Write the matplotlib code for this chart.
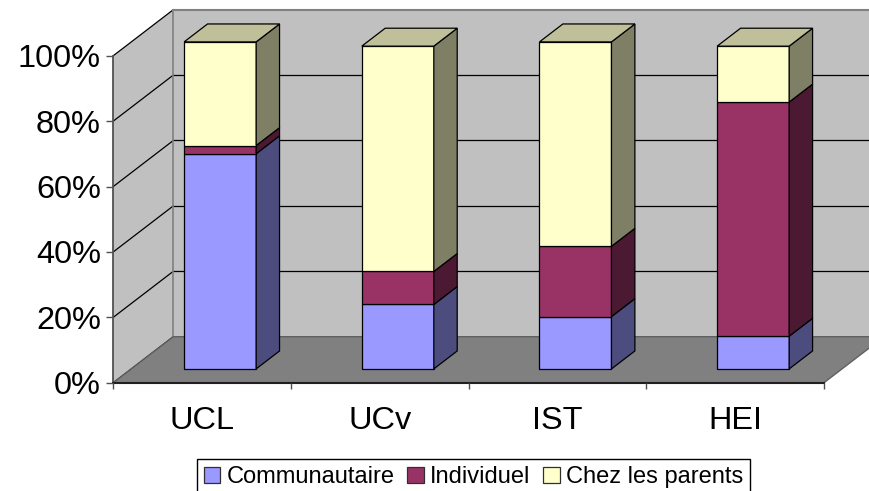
import matplotlib
matplotlib.use("Agg")
import matplotlib.pyplot as plt
from matplotlib.patches import Polygon, Patch
import numpy as np

# ---- data ----
categories = ["UCL", "UCv", "IST", "HEI"]
series_names = ["Communautaire", "Individuel", "Chez les parents"]
communautaire = [65.8, 19.7, 16.0, 10.0]
individuel = [2.5, 10.1, 21.5, 71.6]
chez_parents = [31.7, 68.9, 62.5, 17.1]
y_ticks = [0, 20, 40, 60, 80, 100]
y_tick_labels = ["0%", "20%", "40%", "60%", "80%", "100%"]

front_colors = ["#9999FF", "#993366", "#FFFFCC"]
side_colors = ["#4C4C7F", "#4C1933", "#7F7F66"]
top_colors = ["#7373BF", "#732650", "#BFBF99"]

plt.rcParams['font.family'] = ['Liberation Sans', 'DejaVu Sans']

W, H = 870, 491
fig = plt.figure(figsize=(W / 100, H / 100), dpi=100)
fig.patch.set_facecolor("white")

# axes mapped onto the front plane of the 3D box
x0, x1 = 113.3, 824.0
y_bot, y_top = 382.7, 55.7
ax = fig.add_axes([x0 / W, 1 - y_bot / H, (x1 - x0) / W, (y_bot - y_top) / H])
ax.set_xlim(0, len(categories))
ax.set_ylim(0, 100)
ax.patch.set_visible(False)

px_per_cat = (x1 - x0) / len(categories)
px_per_pct = (y_bot - y_top) / 100.0
DX = 60.0 / px_per_cat      # full depth in x data units
DY = 46.0 / px_per_pct      # full depth in y data units
ncat = len(categories)

wall = "#C0C0C0"
# left wall
ax.add_patch(Polygon([(0, 0), (DX, DY), (DX, 100 + DY), (0, 100)], closed=True,
                     facecolor=wall, edgecolor="none", zorder=0, clip_on=False))
# back wall
ax.add_patch(Polygon([(DX, DY), (ncat + DX * 2, DY), (ncat + DX * 2, 100 + DY), (DX, 100 + DY)],
                     closed=True, facecolor=wall, edgecolor="none", zorder=0, clip_on=False))
# gridlines
for g in y_ticks:
    ax.plot([0, DX], [g, g + DY], color="black", lw=0.9, zorder=0.5, clip_on=False)
    if 0 < g < 100:
        ax.plot([DX, ncat + DX * 2], [g + DY, g + DY], color="black", lw=0.9, zorder=0.5, clip_on=False)
# back wall top edge and left edge
ax.plot([DX, ncat + DX * 2], [100 + DY, 100 + DY], color="#808080", lw=1.5, zorder=0.6, clip_on=False)
ax.plot([DX, DX], [DY, 100 + DY], color="#808080", lw=1.2, zorder=0.6, clip_on=False)
# floor
ax.add_patch(Polygon([(0, 0), (ncat, 0), (ncat + DX, DY), (DX, DY)], closed=True,
                     facecolor="#808080", edgecolor="#606060", lw=1.0, zorder=0.7, clip_on=False))

# bars
z_front, z_back = 0.30, 0.69
bw = 72.0 / px_per_cat
ox, oy = z_front * DX, z_front * DY
ddx, ddy = (z_back - z_front) * DX, (z_back - z_front) * DY
xs = np.arange(ncat) + 0.5 + ox
series = [communautaire, individuel, chez_parents]
bottoms = np.zeros(ncat)
for si, vals in enumerate(series):
    vals = np.array(vals, dtype=float)
    ax.bar(xs, vals, bottom=bottoms + oy, width=bw, color=front_colors[si],
           edgecolor="black", linewidth=0.9, zorder=3, clip_on=False)
    for i in range(ncat):
        xr = xs[i] + bw / 2
        b = bottoms[i] + oy
        t = b + vals[i]
        ax.add_patch(Polygon([(xr, b), (xr + ddx, b + ddy), (xr + ddx, t + ddy), (xr, t)],
                             closed=True, facecolor=side_colors[si], edgecolor="black",
                             lw=0.9, zorder=3, clip_on=False))
        if si == len(series) - 1:
            xl = xs[i] - bw / 2
            ax.add_patch(Polygon([(xl, t), (xr, t), (xr + ddx, t + ddy), (xl + ddx, t + ddy)],
                                 closed=True, facecolor=top_colors[si], edgecolor="black",
                                 lw=0.9, zorder=3, clip_on=False))
    bottoms = bottoms + vals

# axes styling
for s in ["top", "right"]:
    ax.spines[s].set_visible(False)
ax.spines["left"].set_color("#505050")
ax.spines["left"].set_linewidth(1.3)
ax.spines["bottom"].set_color("#202020")
ax.spines["bottom"].set_linewidth(1.5)
ax.spines["left"].set_zorder(1)
ax.spines["bottom"].set_zorder(1)

ax.set_yticks(y_ticks)
ax.set_yticklabels(y_tick_labels, fontsize=23.4)
ax.tick_params(axis="y", direction="out", length=5, width=1.0, color="#505050", pad=4)

ax.set_xticks(np.arange(ncat + 1))
ax.set_xticklabels([])
ax.tick_params(axis="x", which="major", direction="out", length=4, width=1.0, color="#505050")
ax.set_xticks(np.arange(ncat) + 0.5, minor=True)
ax.set_xticklabels(categories, minor=True, fontsize=23.4)
ax.tick_params(axis="x", which="minor", length=0, pad=17)

handles = [Patch(facecolor=front_colors[i], edgecolor="#303030", lw=0.9) for i in range(3)]
leg = fig.legend(handles, series_names, loc="upper left",
                 bbox_to_anchor=(196.7 / W, 1 - 459 / H), ncol=3, fontsize=17,
                 frameon=True, fancybox=False, shadow=False, framealpha=1,
                 edgecolor="black", borderpad=0.3, handlelength=0.7, handleheight=0.7,
                 handletextpad=0.26, columnspacing=0.55, borderaxespad=0)
leg.get_frame().set_linewidth(1.0)

fig.savefig("out.png", dpi=100)
